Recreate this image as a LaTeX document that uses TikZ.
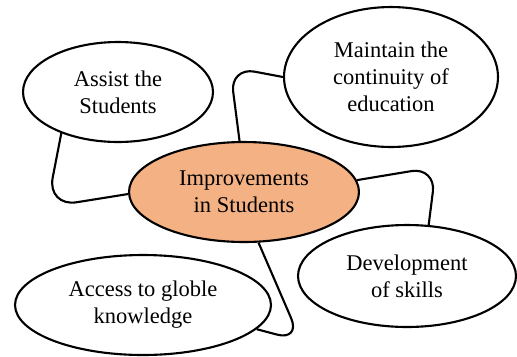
\documentclass[tikz,border=0pt]{standalone}
\usepackage{fontspec}
\setmainfont{Liberation Serif}
\usetikzlibrary{shapes.geometric}
\definecolor{hubfill}{HTML}{F4B183}
\tikzset{
  idea/.style={draw, ellipse, line width=1.2pt, inner sep=0pt, align=center,
    font=\fontsize{12.8}{15.4}\selectfont},
  hub/.style={idea, fill=hubfill},
  link/.style={line width=1.2pt, rounded corners=0.5cm}
}
\begin{document}
\begin{tikzpicture}[x=0.02cm, y=-0.02cm]
      \useasboundingbox (0,0) rectangle (517,356);
      \draw
        (118,92) node[idea, minimum width=3.8cm, minimum height=2cm] (assist) {Assist the\\Students}
        (391,77) node[idea, minimum width=4.28cm, minimum height=2.8cm] (maintain) {Maintain the\\continuity of\\education}
        (244,192) node[hub, minimum width=4.6cm, minimum height=2cm] (hub) {Improvements\\in Students}
        (407,276) node[idea, minimum width=4.36cm, minimum height=2.04cm] (skills) {Development\\of skills}
        (143,305) node[idea, minimum width=5.12cm, minimum height=2cm] (access) {Access to globle\\knowledge};
      % bends of the links
      \coordinate (bendA) at (47,207);
      \coordinate (bendB) at (230,67);
      \coordinate (bendC) at (436,167);
      \coordinate (bendD) at (301,341);
      \begin{scope}[link]
        \draw[rounded corners=0.6cm] (assist.216) -- (bendA) -- (hub.181);
        \draw (hub.95) -- (bendB) -- (maintain.180);
        \draw (hub.6) -- (bendC) -- (skills.67);
        \draw (hub.286) -- (bendD) -- (access.-12);
      \end{scope}
    \end{tikzpicture}
\end{document}
